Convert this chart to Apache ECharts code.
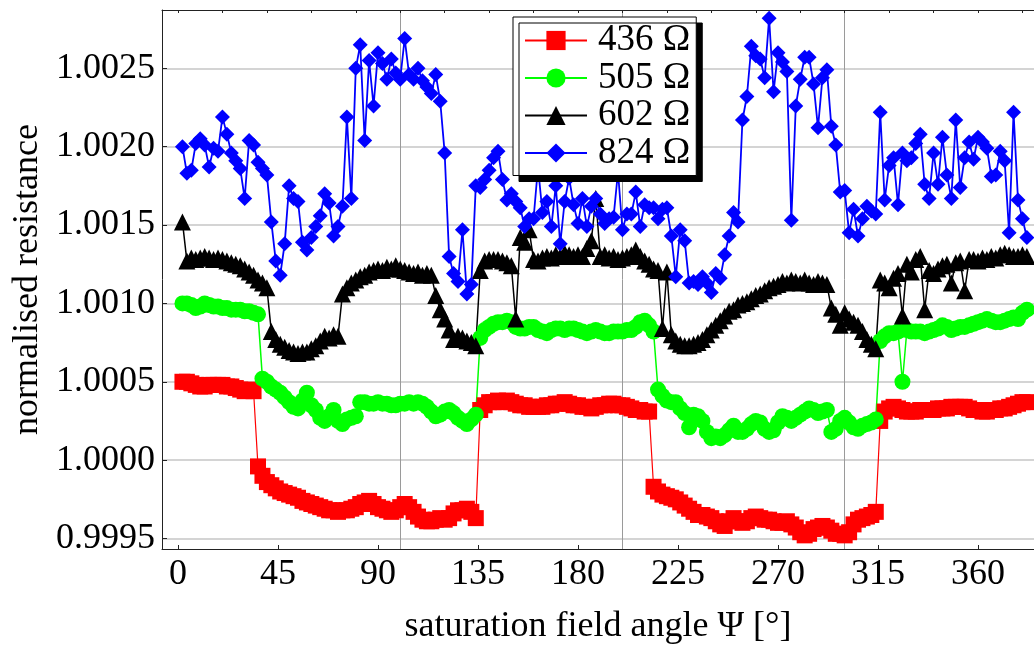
<!DOCTYPE html>
<html>
<head>
<meta charset="utf-8">
<title>normalised resistance vs saturation field angle</title>
<script src="https://cdn.jsdelivr.net/npm/echarts@6/dist/echarts.min.js"></script>
<style>
  html, body { margin: 0; padding: 0; background: #fff; }
  #chart { width: 1034px; height: 650px; }
</style>
</head>
<body>
<div id="chart"></div>
<script>
// Measurement angles (degrees), shared by all four samples
const angles = [
  2, 4, 6, 8, 10, 12, 14, 16, 18, 20, 22, 24, 26, 28, 30, 32, 34, 36, 38, 40,
  42, 44, 46, 48, 50, 52, 54, 56, 58, 60, 62, 64, 66, 68, 70, 72, 74, 76, 78, 80,
  82, 84, 86, 88, 90, 92, 94, 96, 98, 100, 102, 104, 106, 108, 110, 112, 114, 116, 118, 120,
  122, 124, 126, 128, 130, 132, 134, 136, 138, 140, 142, 144, 146, 148, 150, 152, 154, 156, 158, 160,
  162, 164, 166, 168, 170, 172, 174, 176, 178, 180, 182, 184, 186, 188, 190, 192, 194, 196, 198, 200,
  202, 204, 206, 208, 210, 212, 214, 216, 218, 220, 222, 224, 226, 228, 230, 232, 234, 236, 238, 240,
  242, 244, 246, 248, 250, 252, 254, 256, 258, 260, 262, 264, 266, 268, 270, 272, 274, 276, 278, 280,
  282, 284, 286, 288, 290, 292, 294, 296, 298, 300, 302, 304, 306, 308, 310, 312, 314, 316, 318, 320,
  322, 324, 326, 328, 330, 332, 334, 336, 338, 340, 342, 344, 346, 348, 350, 352, 354, 356, 358, 360,
  362, 364, 366, 368, 370, 372, 374, 376, 378, 380, 382
];

// Normalised resistance, 436 Ω sample
const r436 = [
  1.00050, 1.00050, 1.00049, 1.00048, 1.00047, 1.00047, 1.00048, 1.00048, 1.00048, 1.00048,
  1.00047, 1.00047, 1.00046, 1.00045, 1.00044, 1.00045, 1.00044,
  0.99996, 0.99990, 0.99986, 0.99984, 0.99982, 0.99980, 0.99979, 0.99978, 0.99977, 0.99976,
  0.99974, 0.99973, 0.99972, 0.99971, 0.99970, 0.99969, 0.99968, 0.99968, 0.99967, 0.99968,
  0.99968, 0.99969, 0.99970, 0.99972, 0.99973, 0.99974, 0.99972, 0.99970, 0.99969, 0.99968,
  0.99967, 0.99968, 0.99970, 0.99972, 0.99970, 0.99967, 0.99964, 0.99962, 0.99961, 0.99961,
  0.99962, 0.99963, 0.99962, 0.99963, 0.99966, 0.99968, 0.99968, 0.99969, 0.99967, 0.99963,
  1.00032, 1.00035, 1.00037, 1.00037, 1.00038, 1.00037, 1.00038, 1.00037, 1.00036, 1.00035,
  1.00035, 1.00034, 1.00034, 1.00034, 1.00034, 1.00035, 1.00035, 1.00036, 1.00036, 1.00037,
  1.00036, 1.00035, 1.00035, 1.00034, 1.00034, 1.00033, 1.00034, 1.00035, 1.00035, 1.00036,
  1.00036, 1.00035, 1.00035, 1.00034, 1.00033, 1.00032, 1.00032, 1.00031, 1.00031,
  0.99983, 0.99980, 0.99978, 0.99977, 0.99976, 0.99975, 0.99973, 0.99971, 0.99969, 0.99967,
  0.99965, 0.99965, 0.99964, 0.99963, 0.99961, 0.99959, 0.99958, 0.99961, 0.99963, 0.99961,
  0.99960, 0.99961, 0.99963, 0.99964, 0.99963, 0.99962, 0.99962, 0.99961, 0.99960, 0.99960,
  0.99961, 0.99959, 0.99957, 0.99954, 0.99952, 0.99953, 0.99956, 0.99957, 0.99958, 0.99957,
  0.99955, 0.99953, 0.99953, 0.99952, 0.99954, 0.99959, 0.99962, 0.99963, 0.99964, 0.99965,
  0.99967,
  1.00025, 1.00031, 1.00033, 1.00034, 1.00033, 1.00032, 1.00031, 1.00031, 1.00031, 1.00032,
  1.00032, 1.00032, 1.00032, 1.00033, 1.00033, 1.00033, 1.00034, 1.00034, 1.00034, 1.00034,
  1.00033, 1.00032, 1.00032, 1.00031, 1.00031, 1.00032, 1.00032, 1.00033, 1.00033, 1.00034,
  1.00035, 1.00036, 1.00037, 1.00037
];

// Normalised resistance, 505 Ω sample
const r505 = [
  1.00100, 1.00100, 1.00099, 1.00097, 1.00098, 1.00100, 1.00099, 1.00098, 1.00098, 1.00097,
  1.00097, 1.00096, 1.00096, 1.00096, 1.00095, 1.00095, 1.00094, 1.00093,
  1.00052, 1.00050, 1.00047, 1.00045, 1.00043, 1.00040, 1.00037, 1.00034, 1.00033, 1.00038,
  1.00043, 1.00035, 1.00032, 1.00027, 1.00025, 1.00028, 1.00032, 1.00025, 1.00023, 1.00026,
  1.00027, 1.00028, 1.00037, 1.00037, 1.00036, 1.00036, 1.00037, 1.00036, 1.00036, 1.00035,
  1.00035, 1.00036, 1.00036, 1.00037, 1.00036, 1.00037, 1.00036, 1.00034, 1.00031, 1.00028,
  1.00029, 1.00031, 1.00032, 1.00030, 1.00027, 1.00025, 1.00023, 1.00026, 1.00029,
  1.00078, 1.00083, 1.00085, 1.00087, 1.00088, 1.00088, 1.00089, 1.00088, 1.00085, 1.00084,
  1.00084, 1.00085, 1.00085, 1.00083, 1.00082, 1.00081, 1.00083, 1.00084, 1.00084, 1.00083,
  1.00084, 1.00084, 1.00083, 1.00082, 1.00081, 1.00082, 1.00083, 1.00082, 1.00081, 1.00081,
  1.00082, 1.00082, 1.00082, 1.00083, 1.00083, 1.00085, 1.00088, 1.00089, 1.00086, 1.00082,
  1.00045, 1.00041, 1.00038, 1.00037, 1.00037, 1.00033, 1.00030, 1.00021, 1.00029, 1.00028,
  1.00025, 1.00018, 1.00014, 1.00015, 1.00014, 1.00016, 1.00019, 1.00022, 1.00018, 1.00018,
  1.00020, 1.00023, 1.00025, 1.00024, 1.00020, 1.00018, 1.00019, 1.00024, 1.00028, 1.00027,
  1.00025, 1.00027, 1.00029, 1.00031, 1.00033, 1.00032, 1.00030, 1.00031, 1.00032, 1.00018,
  1.00020, 1.00025, 1.00027, 1.00024, 1.00021, 1.00020, 1.00022, 1.00023, 1.00024, 1.00026,
  1.00076, 1.00079, 1.00081, 1.00081, 1.00082, 1.00050, 1.00083, 1.00082, 1.00082, 1.00082,
  1.00081, 1.00082, 1.00083, 1.00084, 1.00086, 1.00085, 1.00083, 1.00084, 1.00085, 1.00085,
  1.00086, 1.00087, 1.00088, 1.00089, 1.00090, 1.00089, 1.00088, 1.00088, 1.00089, 1.00090,
  1.00091, 1.00090, 1.00094, 1.00096
];

// Normalised resistance, 602 Ω sample
const r602 = [
  1.00152, 1.00127, 1.00129, 1.00128, 1.00129, 1.00130, 1.00129, 1.00128, 1.00129, 1.00128,
  1.00127, 1.00126, 1.00125, 1.00124, 1.00122, 1.00120, 1.00118, 1.00115, 1.00113, 1.00110,
  1.00082, 1.00077, 1.00074, 1.00072, 1.00070, 1.00069, 1.00068, 1.00069, 1.00069, 1.00071,
  1.00073, 1.00076, 1.00079, 1.00078, 1.00080, 1.00079,
  1.00106, 1.00110, 1.00113, 1.00115, 1.00117, 1.00118, 1.00120, 1.00121, 1.00122, 1.00121,
  1.00123, 1.00122, 1.00124, 1.00122, 1.00121, 1.00120, 1.00119, 1.00120, 1.00118, 1.00119,
  1.00118, 1.00105, 1.00096, 1.00090, 1.00083, 1.00077, 1.00079, 1.00078, 1.00076, 1.00075,
  1.00073,
  1.00121, 1.00127, 1.00128, 1.00128, 1.00128, 1.00127, 1.00126, 1.00124, 1.00090, 1.00142,
  1.00139, 1.00147, 1.00128, 1.00127, 1.00129, 1.00130, 1.00129, 1.00131, 1.00130, 1.00132,
  1.00131, 1.00130, 1.00131, 1.00130, 1.00135, 1.00140, 1.00167, 1.00130, 1.00131, 1.00129,
  1.00130, 1.00128, 1.00129, 1.00130, 1.00131, 1.00134, 1.00130, 1.00127, 1.00125, 1.00122,
  1.00121, 1.00084, 1.00120, 1.00080,
  1.00076, 1.00074, 1.00073, 1.00073, 1.00074, 1.00075, 1.00077, 1.00080, 1.00083, 1.00086,
  1.00089, 1.00092, 1.00095, 1.00096, 1.00099, 1.00100, 1.00101, 1.00103, 1.00105, 1.00106,
  1.00108, 1.00110, 1.00111, 1.00112, 1.00114, 1.00113, 1.00115, 1.00114, 1.00113, 1.00115,
  1.00113, 1.00112, 1.00114, 1.00113, 1.00112, 1.00097, 1.00093, 1.00086, 1.00094, 1.00090,
  1.00088, 1.00086, 1.00082, 1.00077, 1.00074, 1.00071,
  1.00115, 1.00113, 1.00110, 1.00116, 1.00119, 1.00092, 1.00125, 1.00120, 1.00128, 1.00130,
  1.00096, 1.00121, 1.00119, 1.00122, 1.00124, 1.00125, 1.00113, 1.00126, 1.00127, 1.00108,
  1.00128, 1.00128, 1.00127, 1.00129, 1.00128, 1.00130, 1.00129, 1.00131, 1.00132, 1.00131,
  1.00130, 1.00130, 1.00131, 1.00130
];

// Normalised resistance, 824 Ω sample
const r824 = [
  1.00200, 1.00183, 1.00185, 1.00202, 1.00205, 1.00201, 1.00187, 1.00199, 1.00197, 1.00219,
  1.00208, 1.00196, 1.00191, 1.00186, 1.00167, 1.00204, 1.00201, 1.00190, 1.00186, 1.00182,
  1.00152, 1.00127, 1.00118, 1.00138, 1.00175, 1.00167, 1.00165, 1.00139, 1.00134, 1.00142,
  1.00149, 1.00156, 1.00170, 1.00164, 1.00143, 1.00149, 1.00162, 1.00219, 1.00167, 1.00250,
  1.00265, 1.00204, 1.00255, 1.00226, 1.00260, 1.00253, 1.00243, 1.00256, 1.00247, 1.00243,
  1.00269, 1.00246, 1.00243, 1.00250, 1.00242, 1.00238, 1.00234, 1.00246, 1.00229, 1.00196,
  1.00130, 1.00119, 1.00114,
  1.00147, 1.00106, 1.00112, 1.00175, 1.00174, 1.00179, 1.00185, 1.00193, 1.00197, 1.00179,
  1.00166, 1.00170, 1.00165, 1.00161, 1.00149, 1.00154, 1.00154, 1.00187, 1.00158, 1.00165,
  1.00149, 1.00175, 1.00138, 1.00165, 1.00180, 1.00163, 1.00151, 1.00167, 1.00149, 1.00162,
  1.00167, 1.00157, 1.00151, 1.00154, 1.00155, 1.00184, 1.00147, 1.00157, 1.00157, 1.00171,
  1.00149, 1.00163, 1.00161, 1.00161, 1.00154, 1.00160, 1.00161, 1.00143, 1.00117, 1.00147,
  1.00140, 1.00113, 1.00114, 1.00112, 1.00117, 1.00113, 1.00107, 1.00119, 1.00116, 1.00131,
  1.00143, 1.00158,
  1.00152, 1.00217, 1.00232, 1.00264, 1.00258, 1.00256, 1.00244, 1.00282, 1.00235, 1.00260,
  1.00254, 1.00248, 1.00153, 1.00226, 1.00243, 1.00257, 1.00257, 1.00240, 1.00212, 1.00244,
  1.00249, 1.00213, 1.00201, 1.00171, 1.00172, 1.00145, 1.00160, 1.00143, 1.00154, 1.00162,
  1.00159, 1.00157, 1.00222, 1.00166, 1.00188, 1.00193, 1.00163, 1.00196, 1.00191, 1.00193,
  1.00202, 1.00208, 1.00176, 1.00167, 1.00196, 1.00176, 1.00206, 1.00182, 1.00167, 1.00217,
  1.00174, 1.00193, 1.00203, 1.00192, 1.00206, 1.00203, 1.00199, 1.00181, 1.00182, 1.00197,
  1.00191, 1.00145, 1.00222, 1.00166, 1.00154, 1.00142
];

// Axis ticks and labels
const xTickValues = [0, 45, 90, 135, 180, 225, 270, 315, 360];
const xTopTickValues = [0, 20, 40, 60, 80, 100, 120, 140, 160, 180, 200, 220, 240, 260, 280, 300, 320, 340, 360, 380];
const xGridValues = [100, 200, 300];
const yTickValues = [0.9995, 1.0000, 1.0005, 1.0010, 1.0015, 1.0020, 1.0025];
const yMinorTickValues = [
  0.9995, 0.9996, 0.9997, 0.9998, 0.9999, 1.0000, 1.0001, 1.0002, 1.0003, 1.0004,
  1.0005, 1.0006, 1.0007, 1.0008, 1.0009, 1.0010, 1.0011, 1.0012, 1.0013, 1.0014,
  1.0015, 1.0016, 1.0017, 1.0018, 1.0019, 1.0020, 1.0021, 1.0022, 1.0023, 1.0024,
  1.0025, 1.0026, 1.0027, 1.0028
];

const SERIF = "'Liberation Serif', 'DejaVu Serif', serif";
const X_MIN = -7.2, X_MAX = 385.2;
const Y_MIN = 0.999433, Y_MAX = 1.002872;
const AXIS_COLOR = '#222';

function pairs(values) {
  return values.map((v, i) => [angles[i], v]);
}

function lineSeries(name, values, color, symbol, size, width) {
  return {
    name: name,
    type: 'line',
    xAxisIndex: 0,
    yAxisIndex: 0,
    data: pairs(values),
    symbol: symbol,
    symbolSize: size,
    showSymbol: true,
    clip: true,
    lineStyle: { color: color, width: width },
    itemStyle: { color: color, borderWidth: 0 },
    emphasis: { disabled: true },
    z: 3
  };
}

const chart = echarts.init(document.getElementById('chart'), null, { renderer: 'canvas' });

chart.setOption({
  animation: false,
  backgroundColor: '#ffffff',
  textStyle: { fontFamily: SERIF },
  grid: { left: 162, right: 0, top: 10, bottom: 94, containLabel: false },
  legend: {
    orient: 'vertical',
    left: 513,
    top: 17,
    padding: [5, 6, 4, 11],
    itemWidth: 62,
    itemHeight: 24,
    itemGap: 0.5,
    backgroundColor: '#ffffff',
    borderColor: '#000000',
    borderWidth: 1,
    shadowColor: '#000000',
    shadowBlur: 0,
    shadowOffsetX: 6,
    shadowOffsetY: 6,
    selectedMode: false,
    textStyle: {
      fontFamily: SERIF,
      fontSize: 37,
      lineHeight: 30.5,
      color: '#000',
      padding: [0, 0, 0, 6]
    },
    data: ['436 Ω', '505 Ω', '602 Ω', '824 Ω']
  },
  xAxis: [
    {
      type: 'value',
      position: 'bottom',
      min: X_MIN,
      max: X_MAX,
      axisLine: { show: true, onZero: false, lineStyle: { color: AXIS_COLOR, width: 1 } },
      axisTick: { show: true, inside: true, length: 4, customValues: xTickValues, lineStyle: { color: AXIS_COLOR } },
      axisLabel: { customValues: xTickValues, fontFamily: SERIF, fontSize: 36, color: '#000', margin: 8 },
      splitLine: { show: false },
      name: 'saturation field angle Ψ [°]',
      nameLocation: 'middle',
      nameGap: 60,
      nameTextStyle: { fontFamily: SERIF, fontSize: 36, color: '#000' }
    },
    {
      type: 'value',
      position: 'top',
      min: X_MIN,
      max: X_MAX,
      axisLine: { show: true, onZero: false, lineStyle: { color: AXIS_COLOR, width: 1 } },
      axisTick: { show: true, inside: true, length: 3, customValues: xTopTickValues, lineStyle: { color: AXIS_COLOR } },
      axisLabel: { show: false },
      splitLine: { show: false }
    },
    {
      type: 'value',
      position: 'top',
      min: X_MIN,
      max: X_MAX,
      axisLine: { show: false },
      axisTick: { show: false, customValues: xGridValues },
      axisLabel: { show: false, customValues: xGridValues },
      splitLine: { show: true, lineStyle: { color: '#9a9a9a', width: 1 } }
    }
  ],
  yAxis: [
    {
      type: 'value',
      position: 'left',
      min: Y_MIN,
      max: Y_MAX,
      axisLine: { show: true, onZero: false, lineStyle: { color: AXIS_COLOR, width: 1 } },
      axisTick: { show: true, inside: true, length: 5, customValues: yTickValues, lineStyle: { color: AXIS_COLOR } },
      axisLabel: {
        customValues: yTickValues,
        formatter: (v) => v.toFixed(4),
        fontFamily: SERIF, fontSize: 36, color: '#000', margin: 7
      },
      splitLine: { show: true, lineStyle: { color: '#c6c6c6', width: 1.5 } },
      name: 'normalised resistance',
      nameLocation: 'middle',
      nameGap: 112,
      nameTextStyle: { fontFamily: SERIF, fontSize: 36, color: '#000' }
    },
    {
      type: 'value',
      position: 'right',
      offset: -872,
      min: Y_MIN,
      max: Y_MAX,
      axisLine: { show: false },
      axisTick: { show: true, inside: false, length: 3, customValues: yMinorTickValues, lineStyle: { color: AXIS_COLOR } },
      axisLabel: { show: false },
      splitLine: { show: false }
    }
  ],
  series: [
    lineSeries('436 Ω', r436, '#ff0000', 'rect', 16, 1.2),
    lineSeries('505 Ω', r505, '#00ff00', 'circle', 16, 1.5),
    lineSeries('602 Ω', r602, '#000000', 'triangle', 17, 1.5),
    lineSeries('824 Ω', r824, '#0000ff', 'diamond', 15, 1.8)
  ]
});
</script>
</body>
</html>
